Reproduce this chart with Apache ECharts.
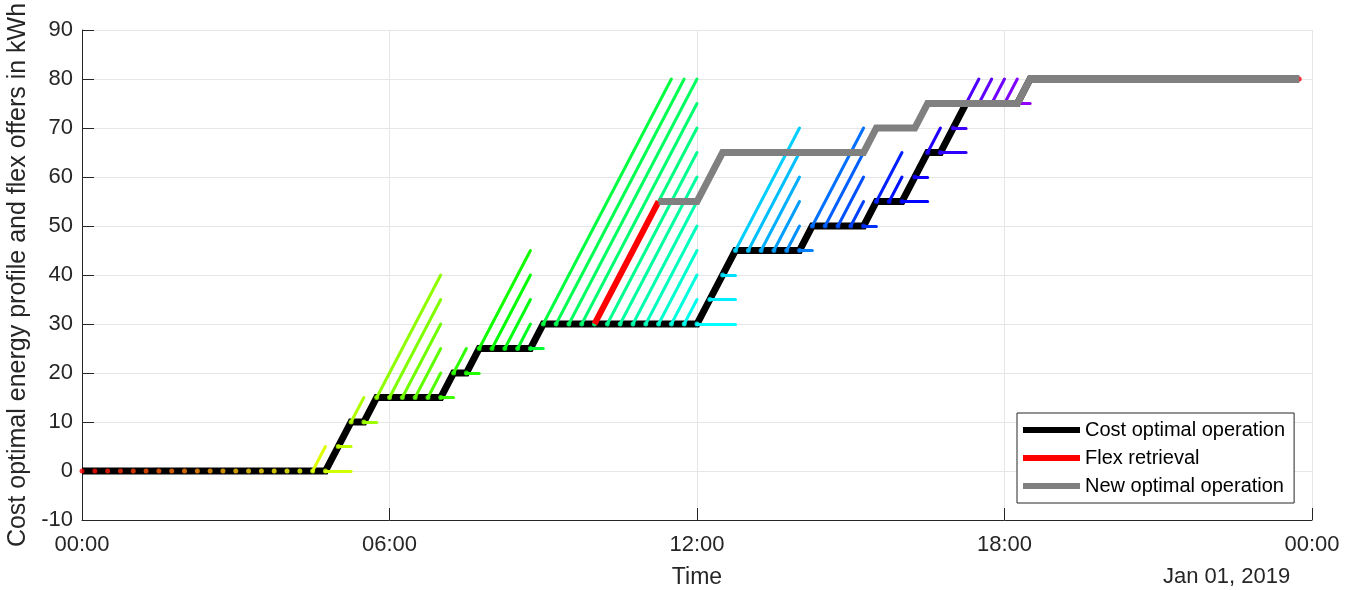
<!DOCTYPE html>
<html>
<head>
<meta charset="utf-8">
<script src="https://cdn.jsdelivr.net/npm/echarts@6/dist/echarts.min.js"></script>
<style>
  html, body { margin: 0; padding: 0; background: #fff; }
  #chart { width: 1370px; height: 590px; }
</style>
</head>
<body>
<div id="chart"></div>
<script>
// 15 min steps over one day (hours)
var stepHours = [
  0, 0.25, 0.5, 0.75, 1, 1.25, 1.5, 1.75, 2, 2.25, 2.5, 2.75,
  3, 3.25, 3.5, 3.75, 4, 4.25, 4.5, 4.75, 5, 5.25, 5.5, 5.75,
  6, 6.25, 6.5, 6.75, 7, 7.25, 7.5, 7.75, 8, 8.25, 8.5, 8.75,
  9, 9.25, 9.5, 9.75, 10, 10.25, 10.5, 10.75, 11, 11.25, 11.5, 11.75,
  12, 12.25, 12.5, 12.75, 13, 13.25, 13.5, 13.75, 14, 14.25, 14.5, 14.75,
  15, 15.25, 15.5, 15.75, 16, 16.25, 16.5, 16.75, 17, 17.25, 17.5, 17.75,
  18, 18.25, 18.5, 18.75, 19, 19.25, 19.5, 19.75, 20, 20.25, 20.5, 20.75,
  21, 21.25, 21.5, 21.75, 22, 22.25, 22.5, 22.75, 23, 23.25, 23.5, 23.75
];
// cost optimal energy profile (kWh) at each step
var costOptimal = [
  0, 0, 0, 0, 0, 0, 0, 0, 0, 0, 0, 0,
  0, 0, 0, 0, 0, 0, 0, 0, 5, 10, 10, 15,
  15, 15, 15, 15, 15, 20, 20, 25, 25, 25, 25, 25,
  30, 30, 30, 30, 30, 30, 30, 30, 30, 30, 30, 30,
  30, 35, 40, 45, 45, 45, 45, 45, 45, 50, 50, 50,
  50, 50, 55, 55, 55, 60, 65, 65, 70, 75, 75, 75,
  75, 75, 80, 80, 80, 80, 80, 80, 80, 80, 80, 80,
  80, 80, 80, 80, 80, 80, 80, 80, 80, 80, 80, 80
];
// flex retrieval
var flexHours = [10, 10.25, 10.5, 10.75, 11, 11.25];
var flexEnergy = [30, 35, 40, 45, 50, 55];
// new optimal operation after retrieval
var newHours = stepHours.slice(45);
var newOptimal = [
  55, 55, 55, 55, 60, 65, 65, 65, 65, 65, 65, 65,
  65, 65, 65, 65, 65, 70, 70, 70, 70, 75, 75, 75,
  75, 75, 75, 75, 75, 80, 80, 80, 80, 80, 80, 80,
  80, 80, 80, 80, 80, 80, 80, 80, 80, 80, 80, 80,
  80, 80, 80
];
// flex offers: start hour, end hour, energy at end
var offerStart = [
  4.5, 4.75, 5, 5.25, 5.5, 5.75, 6, 6.25, 6.5, 6.75, 7, 7.25, 7.5, 7.75,
  8, 8.25, 8.5, 8.75, 9, 9.25, 9.5, 9.75, 10, 10.25, 10.5, 10.75, 11, 11.25,
  11.5, 11.75, 12, 12.25, 12.5, 12.75, 13, 13.25, 13.5, 13.75, 14, 14.25,
  14.5, 14.75, 15, 15.25, 15.5, 15.75, 16, 16.25, 16.5, 16.75, 17, 17.25,
  17.5, 17.75, 18, 18.25
];
var offerEnd = [
  4.75, 5.25, 5.25, 5.5, 5.75, 7, 7, 7, 7, 7, 7.25, 7.5, 7.75, 8.75,
  8.75, 8.75, 8.75, 9, 11.5, 11.75, 12, 12, 12, 12, 12, 12, 12, 12,
  12, 12, 12.75, 12.75, 12.75, 14, 14, 14, 14, 14, 14.25, 15.25,
  15.25, 15.25, 15.25, 15.5, 16, 16, 16.5, 16.5, 16.75, 17.25, 17.25, 17.5,
  17.75, 18, 18.25, 18.5
];
var offerEndEnergy = [
  5, 0, 5, 15, 10, 40, 35, 30, 25, 20, 15, 25, 20, 45,
  40, 35, 30, 25, 80, 80, 80, 75, 70, 65, 60, 55, 50, 45,
  40, 35, 30, 35, 40, 70, 65, 60, 55, 50, 45, 70,
  65, 60, 55, 50, 65, 60, 55, 60, 70, 65, 70, 80,
  80, 80, 80, 75
];

var FONT = "'Liberation Sans', Arial, Helvetica, sans-serif";
var TXT = '#262626';

// matlab hsv colormap, hue runs once over the day
function hsvColor(h) {
  var hue = (h / 24) * 6;
  var i = Math.floor(hue), f = hue - i;
  var q = 1 - f, t = f, r, g, b;
  switch (i % 6) {
    case 0: r = 1; g = t; b = 0; break;
    case 1: r = q; g = 1; b = 0; break;
    case 2: r = 0; g = 1; b = t; break;
    case 3: r = 0; g = q; b = 1; break;
    case 4: r = t; g = 0; b = 1; break;
    default: r = 1; g = 0; b = q;
  }
  return 'rgb(' + Math.round(r * 255) + ',' + Math.round(g * 255) + ',' + Math.round(b * 255) + ')';
}

function energyAt(h) {
  return costOptimal[stepHours.indexOf(h)];
}

function pairs(xs, ys) {
  return xs.map(function (x, i) { return [x, ys[i]]; });
}

var offerLines = offerStart.map(function (s, i) {
  return {
    coords: [[s, energyAt(s)], [offerEnd[i], offerEndEnergy[i]]],
    lineStyle: { color: hsvColor(s) }
  };
});

var offerDots = stepHours.map(function (h, i) {
  return { value: [h, costOptimal[i]], itemStyle: { color: hsvColor(h) } };
});

function hhmm(v) {
  var h = v % 24;
  return (h < 10 ? '0' : '') + h + ':00';
}

var chartObj = echarts.init(document.getElementById('chart'));

var option = {
  animation: false,
  backgroundColor: '#fff',
  textStyle: { fontFamily: FONT },
  grid: { left: 82, top: 30, right: 58, bottom: 70, containLabel: false, outerBoundsMode: 'none' },
  xAxis: {
    type: 'value',
    min: 0, max: 24, interval: 6,
    name: 'Time',
    nameLocation: 'middle',
    nameGap: 46,
    nameTextStyle: { fontSize: 23, color: TXT, fontFamily: FONT },
    axisLine: { show: true, onZero: false, lineStyle: { color: TXT, width: 1 } },
    axisTick: { show: true, inside: true, length: 12, lineStyle: { color: TXT } },
    axisLabel: { fontSize: 22, color: TXT, margin: 14, fontFamily: FONT, formatter: hhmm },
    splitLine: { show: true, lineStyle: { color: '#e6e6e6', width: 1 } }
  },
  yAxis: {
    type: 'value',
    min: -10, max: 90, interval: 10,
    name: 'Cost optimal energy profile and flex offers in kWh',
    nameLocation: 'middle',
    nameGap: 50,
    nameTextStyle: { fontSize: 25, color: TXT, fontFamily: FONT },
    axisLine: { show: true, onZero: false, lineStyle: { color: TXT, width: 1 } },
    axisTick: { show: true, inside: true, length: 12, lineStyle: { color: TXT } },
    axisLabel: { fontSize: 22, color: TXT, margin: 9, fontFamily: FONT },
    splitLine: { show: true, lineStyle: { color: '#e6e6e6', width: 1 } }
  },
  legend: {
    left: 1017,
    top: 413,
    orient: 'vertical',
    icon: 'rect',
    itemWidth: 57,
    itemHeight: 6,
    itemGap: 6,
    padding: [6, 9, 6, 6],
    backgroundColor: '#fff',
    borderColor: TXT,
    borderWidth: 1,
    textStyle: { fontSize: 20, color: '#000', fontFamily: FONT, lineHeight: 22 },
    data: ['Cost optimal operation', 'Flex retrieval', 'New optimal operation']
  },
  graphic: [{
    type: 'text',
    left: 1163,
    top: 566,
    style: { text: 'Jan 01, 2019', fontSize: 22, fill: TXT, font: '22px ' + FONT }
  }],
  series: [
    {
      name: 'Cost optimal operation',
      type: 'line',
      data: pairs(stepHours, costOptimal),
      showSymbol: false,
      symbol: 'none',
      color: '#000',
      lineStyle: { color: '#000', width: 7, join: 'miter' },
      z: 2
    },
    {
      name: 'offers',
      type: 'lines',
      coordinateSystem: 'cartesian2d',
      data: offerLines,
      lineStyle: { width: 3, opacity: 1, cap: 'round' },
      z: 3
    },
    {
      name: 'dots',
      type: 'scatter',
      data: offerDots,
      symbolSize: 5,
      z: 4
    },
    {
      name: 'Flex retrieval',
      type: 'line',
      data: pairs(flexHours, flexEnergy),
      symbol: 'none',
      color: '#ff0000',
      lineStyle: { color: '#ff0000', width: 6 },
      z: 5
    },
    {
      name: 'New optimal operation',
      type: 'line',
      data: pairs(newHours, newOptimal),
      symbol: 'none',
      color: '#808080',
      lineStyle: { color: '#808080', width: 7, join: 'miter' },
      z: 6
    }
  ]
};

chartObj.setOption(option, true);
window.addEventListener('resize', function () {
  chartObj.resize();
});
</script>
</body>
</html>
